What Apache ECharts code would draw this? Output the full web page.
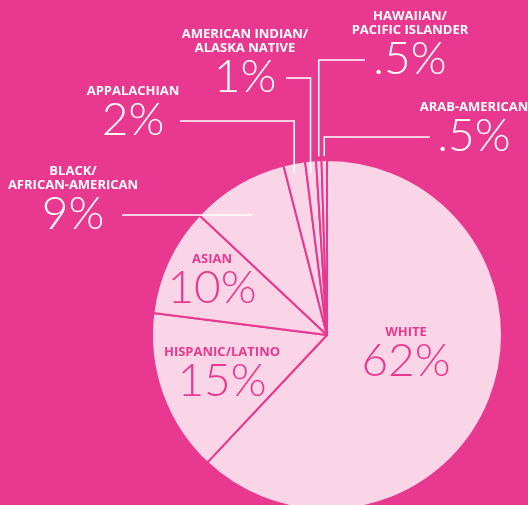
<!DOCTYPE html>
<html lang="en">
<head>
	<meta charset="UTF-8">
	<title>Pie</title>
	<style>html,body{margin:0;padding:0;background:#E8388F;}</style>
</head>
<body>
<div id="chart" style="width:528px;height:505px;"></div>
<script src="https://cdn.jsdelivr.net/npm/echarts@6/dist/echarts.min.js"></script>
<script>
	var categories = ['WHITE', 'HISPANIC/LATINO', 'ASIAN', 'BLACK/\nAFRICAN-AMERICAN', 'APPALACHIAN',
		'AMERICAN INDIAN/\nALASKA NATIVE', 'HAWAIIAN/\nPACIFIC ISLANDER', 'ARAB-AMERICAN'];
	var shares = [62, 15, 10, 9, 2, 1, 0.5, 0.5];
	var insideLabel = [true, true, true, false, false, false, false, false];

	var PINK = '#E8388F', LIGHT = '#FAD5E7';
	var cx = 327, cy = 335, R = 175;

	// label block centres
	var spots = [[406, 354], [222, 374], [212, 281], [73, 200], [133, 113], [245, 63], [410, 45], [474, 129]];
	// where the leader line meets the label, and how far it dips into the pie
	var lineFrom = [0, 0, 0, 122, 180, 286, 365, 430];
	var dip = [0, 0, 0, 0, 10, 12, -4, -4];

	function fmt(v) {
		return (v < 1 ? String(v).slice(1) : v) + '%';
	}

	var total = shares.reduce(function (a, b) { return a + b; }, 0);
	var mids = [], acc = 0;
	shares.forEach(function (v) {
		mids.push((acc + v / 2) / total * Math.PI * 2);
		acc += v;
	});

	function leader(i) {
		var s = spots[i];
		var lines = categories[i].split('\n').length;
		var vy = s[1] + (lines * 14 + 44) / 2 - 21;
		var th = mids[i];
		if (i === 3) {
			return [[cx + 0.84 * R * Math.sin(th), vy], [lineFrom[i], vy]];
		}
		var x = cx + R * Math.sin(th);
		var yEdge = cy - Math.sqrt(R * R - (x - cx) * (x - cx));
		return [[x, yEdge + dip[i]], [x, vy], [lineFrom[i], vy]];
	}

	var myChart = echarts.init(document.getElementById('chart'));

	var slices = shares.map(function (v, i) {
		return {name: categories[i], value: v};
	});

	// same data again, transparent, so that labels and leader lines sit on top of the slices
	var labelled = shares.map(function (v, i) {
		var col = insideLabel[i] ? PINK : '#ffffff';
		return {
			name: categories[i],
			value: v,
			label: {
				position: insideLabel[i] ? 'inside' : 'outside',
				rich: {
					n: {color: col},
					v: {color: col}
				}
			},
			labelLine: {show: !insideLabel[i]}
		};
	});

	var option = {
		backgroundColor: PINK,
		animation: false,
		series: [{
			type: 'pie',
			center: [cx, cy],
			radius: R,
			startAngle: 90,
			clockwise: true,
			silent: true,
			z: 1,
			itemStyle: {
				color: LIGHT,
				borderColor: PINK,
				borderWidth: 2
			},
			label: {show: false},
			labelLine: {show: false},
			data: slices
		}, {
			type: 'pie',
			center: [cx, cy],
			radius: R,
			startAngle: 90,
			clockwise: true,
			silent: true,
			z: 5,
			avoidLabelOverlap: false,
			itemStyle: {
				color: 'rgba(0,0,0,0)',
				borderWidth: 0
			},
			label: {
				show: true,
				formatter: function (p) {
					return '{n|' + p.name + '}\n{v|' + fmt(p.value) + '}';
				},
				rich: {
					n: {fontFamily: 'Open Sans', fontWeight: 'bold', fontSize: 13, lineHeight: 14},
					v: {fontFamily: 'Lato', fontWeight: 300, fontSize: 46, lineHeight: 44}
				}
			},
			labelLine: {
				show: true,
				smooth: false,
				lineStyle: {color: '#ffffff', width: 1.5}
			},
			labelLayout: function (p) {
				var i = p.dataIndex;
				var o = {x: spots[i][0], y: spots[i][1], align: 'center', verticalAlign: 'middle'};
				if (!insideLabel[i]) o.labelLinePoints = leader(i);
				return o;
			},
			data: labelled
		}]
	};

	myChart.setOption(option);
</script>
</body>
</html>
